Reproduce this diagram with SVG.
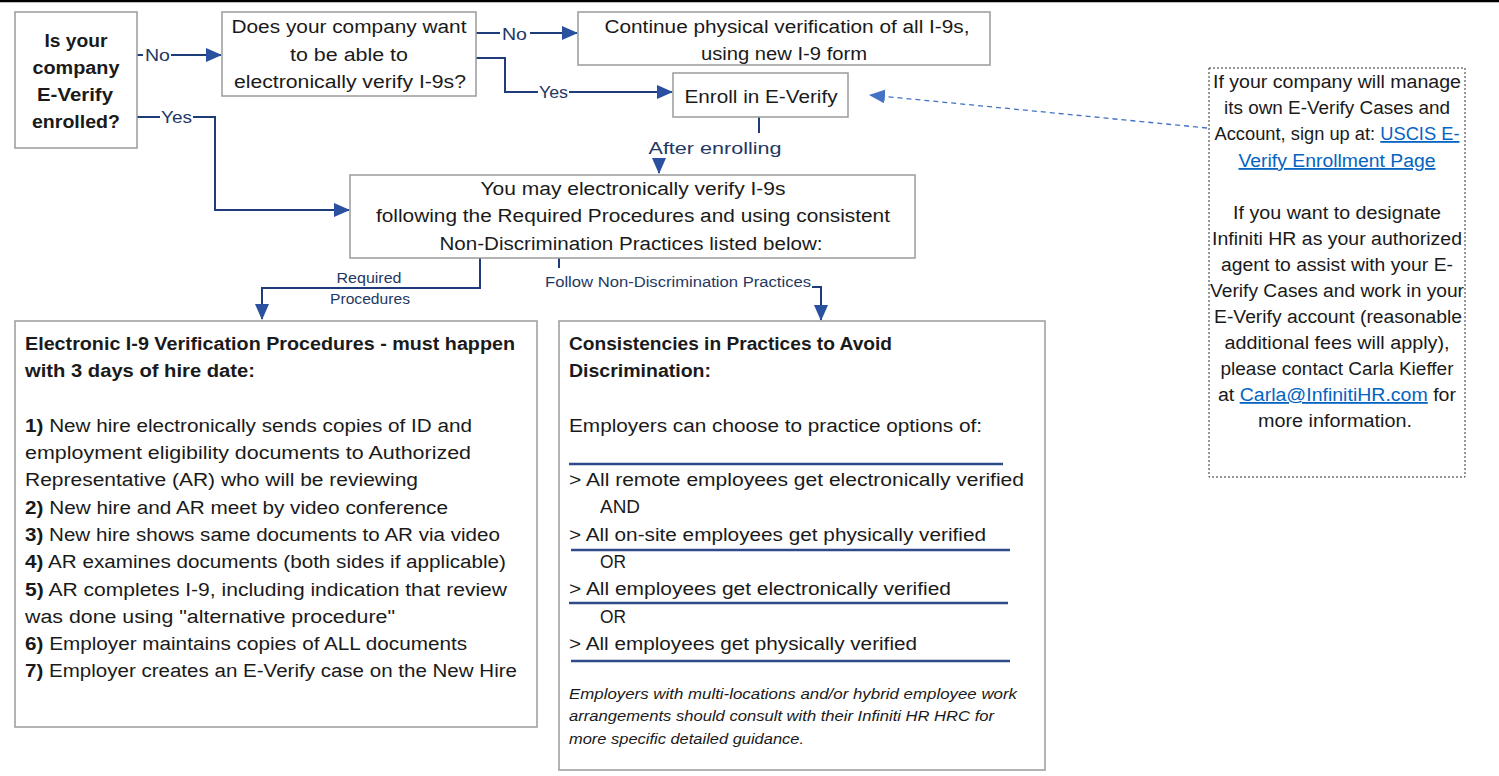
<svg xmlns="http://www.w3.org/2000/svg" width="1499" height="776" viewBox="0 0 1499 776">
<style>
.box{fill:#fff;stroke:#9b9b9b;stroke-width:1.5}
.t{font-family:"Liberation Sans",Arial,sans-serif;font-size:18px;fill:#1a1a1a}
.b{font-weight:bold}
.c{text-anchor:middle}
.lab{font-family:"Liberation Sans",Arial,sans-serif;font-size:17px;fill:#1f3864}
.sm{font-family:"Liberation Sans",Arial,sans-serif;font-size:14px;fill:#1f3864}
.con{fill:none;stroke:#1f3c7a;stroke-width:2}
.link{fill:#0563c1;text-decoration:underline}
.rule{stroke:#2e4a8a;stroke-width:2.5}
.it{font-family:"Liberation Sans",Arial,sans-serif;font-size:14px;font-style:italic;fill:#1a1a1a}
</style>
<defs>
<marker id="ah" markerUnits="userSpaceOnUse" markerWidth="16" markerHeight="14" refX="15" refY="7" orient="auto">
<path d="M0,0 L16,7 L0,14 Z" fill="#2a50a0"/>
</marker>
<marker id="ahd" markerUnits="userSpaceOnUse" markerWidth="16" markerHeight="14" refX="15" refY="7" orient="auto">
<path d="M0,0 L16,7 L0,14 Z" fill="#4472c4"/>
</marker>
</defs>
<rect width="1499" height="776" fill="#fff"/>
<line x1="0" y1="1" x2="1499" y2="1" stroke="#000" stroke-width="2.5"/>

<g id="connectors">
<path class="con" d="M137,55 H143"/>
<path class="con" d="M171,55 H221" marker-end="url(#ah)"/>
<path class="con" d="M137,117 H160"/>
<path class="con" d="M193,117 H215 V210 H349" marker-end="url(#ah)"/>
<path class="con" d="M476,33 H500"/>
<path class="con" d="M530,33 H577" marker-end="url(#ah)"/>
<path class="con" d="M476,58 H505 V92 H538"/>
<path class="con" d="M569,92 H672" marker-end="url(#ah)"/>
<path class="con" d="M759,117 V133"/>
<path class="con" d="M659,161 V173" marker-end="url(#ah)"/>
<path class="con" d="M480,258 V288 H262 V319" marker-end="url(#ah)"/>
<path class="con" d="M559,258 V268"/>
<path class="con" d="M812,287 H821 V320" marker-end="url(#ah)"/>
<path d="M1207,128 L870,95" fill="none" stroke="#4472c4" stroke-width="1.3" stroke-dasharray="5,4" marker-end="url(#ahd)"/>
<text class="lab" x="145" y="61" textLength="25" lengthAdjust="spacingAndGlyphs">No</text>
<text class="lab" x="161" y="123" textLength="31" lengthAdjust="spacingAndGlyphs">Yes</text>
<text class="lab" x="502" y="40" textLength="25" lengthAdjust="spacingAndGlyphs">No</text>
<text class="lab" x="539" y="98" textLength="29" lengthAdjust="spacingAndGlyphs">Yes</text>
<text class="lab c" x="715" y="154" textLength="133" lengthAdjust="spacingAndGlyphs">After enrolling</text>
<text class="sm c" x="369" y="283" textLength="65" lengthAdjust="spacingAndGlyphs">Required</text>
<text class="sm c" x="370" y="304" textLength="80" lengthAdjust="spacingAndGlyphs">Procedures</text>
<text class="sm" x="545" y="287" textLength="266" lengthAdjust="spacingAndGlyphs">Follow Non-Discrimination Practices</text>
</g>

<g id="n1">
<rect class="box" x="15" y="12" width="122" height="136"/>
<text class="t b c" x="76" y="47" textLength="63" lengthAdjust="spacingAndGlyphs">Is your</text>
<text class="t b c" x="76" y="74" textLength="87" lengthAdjust="spacingAndGlyphs">company</text>
<text class="t b c" x="75" y="101" textLength="76" lengthAdjust="spacingAndGlyphs">E-Verify</text>
<text class="t b c" x="76" y="128" textLength="88" lengthAdjust="spacingAndGlyphs">enrolled?</text>
</g>

<g id="n2">
<rect class="box" x="222" y="12" width="254" height="84"/>
<text class="t c" x="349" y="33" textLength="235" lengthAdjust="spacingAndGlyphs">Does your company want</text>
<text class="t c" x="349" y="61" textLength="118" lengthAdjust="spacingAndGlyphs">to be able to</text>
<text class="t c" x="350" y="88" textLength="232" lengthAdjust="spacingAndGlyphs">electronically verify I-9s?</text>
</g>

<g id="n3">
<rect class="box" x="578" y="12" width="412" height="53"/>
<text class="t c" x="787" y="33" textLength="365" lengthAdjust="spacingAndGlyphs">Continue physical verification of all I-9s,</text>
<text class="t c" x="784" y="60" textLength="166" lengthAdjust="spacingAndGlyphs">using new I-9 form</text>
</g>

<g id="n4">
<rect class="box" x="673" y="73" width="175" height="44"/>
<text class="t c" x="761" y="103" textLength="153" lengthAdjust="spacingAndGlyphs">Enroll in E-Verify</text>
</g>

<g id="n5">
<rect class="box" x="350" y="175" width="565" height="83"/>
<text class="t c" x="633" y="195" textLength="305" lengthAdjust="spacingAndGlyphs">You may electronically verify I-9s</text>
<text class="t c" x="633" y="222" textLength="514" lengthAdjust="spacingAndGlyphs">following the Required Procedures and using consistent</text>
<text class="t c" x="631" y="250" textLength="383" lengthAdjust="spacingAndGlyphs">Non-Discrimination Practices listed below:</text>
</g>

<g id="n6">
<rect class="box" x="15" y="321" width="522" height="406"/>
<text class="t b" x="25" y="350" textLength="490" lengthAdjust="spacingAndGlyphs">Electronic I-9 Verification Procedures - must happen</text>
<text class="t b" x="25" y="377" textLength="230" lengthAdjust="spacingAndGlyphs">with 3 days of hire date:</text>
<text class="t" x="25" y="432" textLength="447" lengthAdjust="spacingAndGlyphs"><tspan class="b">1)</tspan> New hire electronically sends copies of ID and</text>
<text class="t" x="25" y="459" textLength="446" lengthAdjust="spacingAndGlyphs">employment eligibility documents to Authorized</text>
<text class="t" x="25" y="486" textLength="393" lengthAdjust="spacingAndGlyphs">Representative (AR) who will be reviewing</text>
<text class="t" x="25" y="514" textLength="423" lengthAdjust="spacingAndGlyphs"><tspan class="b">2)</tspan> New hire and AR meet by video conference</text>
<text class="t" x="25" y="541" textLength="475" lengthAdjust="spacingAndGlyphs"><tspan class="b">3)</tspan> New hire shows same documents to AR via video</text>
<text class="t" x="25" y="568" textLength="481" lengthAdjust="spacingAndGlyphs"><tspan class="b">4)</tspan> AR examines documents (both sides if applicable)</text>
<text class="t" x="25" y="596" textLength="482" lengthAdjust="spacingAndGlyphs"><tspan class="b">5)</tspan> AR completes I-9, including indication that review</text>
<text class="t" x="25" y="623" textLength="370" lengthAdjust="spacingAndGlyphs">was done using "alternative procedure"</text>
<text class="t" x="25" y="650" textLength="442" lengthAdjust="spacingAndGlyphs"><tspan class="b">6)</tspan> Employer maintains copies of ALL documents</text>
<text class="t" x="25" y="677" textLength="492" lengthAdjust="spacingAndGlyphs"><tspan class="b">7)</tspan> Employer creates an E-Verify case on the New Hire</text>
</g>

<g id="n7">
<rect class="box" x="559" y="321" width="486" height="449"/>
<text class="t b" x="569" y="350" textLength="323" lengthAdjust="spacingAndGlyphs">Consistencies in Practices to Avoid</text>
<text class="t b" x="569" y="377" textLength="142" lengthAdjust="spacingAndGlyphs">Discrimination:</text>
<text class="t" x="569" y="432" textLength="413" lengthAdjust="spacingAndGlyphs">Employers can choose to practice options of:</text>
<line class="rule" x1="569" y1="464" x2="1003" y2="464"/>
<text class="t" x="569" y="486" textLength="455" lengthAdjust="spacingAndGlyphs">&gt; All remote employees get electronically verified</text>
<text class="t" x="600" y="513" textLength="40" lengthAdjust="spacingAndGlyphs">AND</text>
<text class="t" x="569" y="541" textLength="417" lengthAdjust="spacingAndGlyphs">&gt; All on-site employees get physically verified</text>
<line class="rule" x1="571" y1="550" x2="1010" y2="550"/>
<text class="t" x="600" y="568" textLength="26" lengthAdjust="spacingAndGlyphs">OR</text>
<text class="t" x="569" y="595" textLength="382" lengthAdjust="spacingAndGlyphs">&gt; All employees get electronically verified</text>
<line class="rule" x1="569" y1="603" x2="1008" y2="603"/>
<text class="t" x="600" y="623" textLength="26" lengthAdjust="spacingAndGlyphs">OR</text>
<text class="t" x="569" y="650" textLength="348" lengthAdjust="spacingAndGlyphs">&gt; All employees get physically verified</text>
<line class="rule" x1="571" y1="661" x2="1010" y2="661"/>
<text class="it" x="569" y="699" textLength="448" lengthAdjust="spacingAndGlyphs">Employers with multi-locations and/or hybrid employee work</text>
<text class="it" x="569" y="721" textLength="425" lengthAdjust="spacingAndGlyphs">arrangements should consult with their Infiniti HR HRC for</text>
<text class="it" x="569" y="744" textLength="235" lengthAdjust="spacingAndGlyphs">more specific detailed guidance.</text>
</g>

<g id="n8">
<rect x="1209" y="68" width="256" height="409" fill="#fff" stroke="#333" stroke-width="1" stroke-dasharray="2,2"/>
<text class="t c" x="1337" y="88" textLength="248" lengthAdjust="spacingAndGlyphs">If your company will manage</text>
<text class="t c" x="1337" y="114" textLength="226" lengthAdjust="spacingAndGlyphs">its own E-Verify Cases and</text>
<text class="t c" x="1337" y="140" textLength="245" lengthAdjust="spacingAndGlyphs">Account, sign up at: <tspan class="link">USCIS E-</tspan></text>
<text class="t c link" x="1337" y="167" textLength="197" lengthAdjust="spacingAndGlyphs">Verify Enrollment Page</text>
<text class="t c" x="1337" y="219" textLength="208" lengthAdjust="spacingAndGlyphs">If you want to designate</text>
<text class="t c" x="1337" y="245" textLength="250" lengthAdjust="spacingAndGlyphs">Infiniti HR as your authorized</text>
<text class="t c" x="1337" y="271" textLength="232" lengthAdjust="spacingAndGlyphs">agent to assist with your E-</text>
<text class="t c" x="1337" y="297" textLength="254" lengthAdjust="spacingAndGlyphs">Verify Cases and work in your</text>
<text class="t c" x="1338" y="323" textLength="248" lengthAdjust="spacingAndGlyphs">E-Verify account (reasonable</text>
<text class="t c" x="1337" y="349" textLength="225" lengthAdjust="spacingAndGlyphs">additional fees will apply),</text>
<text class="t c" x="1337" y="375" textLength="233" lengthAdjust="spacingAndGlyphs">please contact Carla Kieffer</text>
<text class="t c" x="1337" y="401" textLength="238" lengthAdjust="spacingAndGlyphs">at <tspan class="link">Carla@InfinitiHR.com</tspan> for</text>
<text class="t c" x="1335" y="427" textLength="154" lengthAdjust="spacingAndGlyphs">more information.</text>
</g>
</svg>
